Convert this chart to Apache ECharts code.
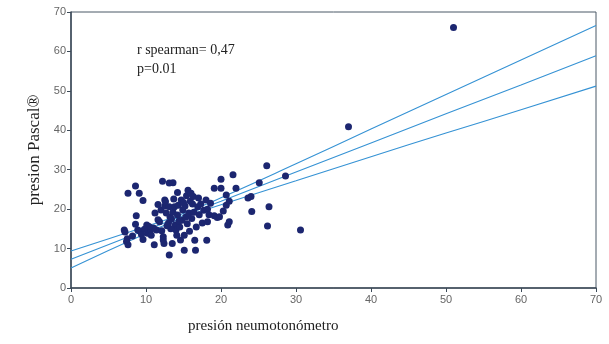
<!DOCTYPE html>
<html><head><meta charset="utf-8">
<script src="https://cdn.jsdelivr.net/npm/echarts@6/dist/echarts.min.js"></script>
<style>html,body{margin:0;padding:0;background:#fff}#c{width:609px;height:344px}</style>
</head><body><div id="c"></div>
<script>
// Scatter data: presión neumotonómetro (x) vs presion Pascal (y)
const pointsX = [7.1,7.2,7.4,7.6,7.6,8.6,9.1,9.6,8.7,8.6,8.9,9.2,9.6,10.1,10.2,10.6,10.7,11.1,11.2,11.4,11.6,11.6,11.8,12.2,12.0,12.3,12.3,12.4,12.5,12.5,12.6,12.7,13.1,13.6,13.1,13.1,13.5,13.2,13.4,13.6,13.8,13.9,14.0,14.2,14.3,14.5,14.6,14.7,14.8,14.9,15.1,15.1,15.2,15.3,15.4,15.6,15.5,15.7,15.8,15.9,16.0,16.1,16.2,16.4,16.5,16.6,16.7,16.9,17.1,17.3,17.5,17.7,18.0,18.2,18.4,18.1,18.2,18.6,19.1,19.1,19.5,19.8,20.0,20.0,20.3,20.7,20.7,21.1,20.9,21.1,21.6,22.0,23.6,24.0,24.1,25.1,26.1,26.2,26.4,28.6,30.6,37.0,51.0,13.0,13.3,14.1,14.4,15.0,12.8,12.1,11.0,13.7,16.3,17.0,14.2,10.4,9.8,9.4,8.2,7.5];
const pointsY = [14.7,14.2,11.8,11.0,24.0,25.9,24.0,22.2,18.3,16.2,14.7,14.4,12.3,16.0,13.9,14.7,13.4,11.0,19.0,14.7,21.2,17.3,16.8,27.1,19.8,13.0,12.2,11.3,22.3,20.8,21.9,19.0,26.6,26.7,20.6,8.4,11.3,18.0,17.5,19.2,20.6,16.0,14.7,18.5,21.0,15.5,12.2,22.3,17.2,19.8,9.6,13.4,20.8,18.0,23.4,24.8,16.3,19.0,14.4,22.0,24.0,17.6,21.3,19.2,12.1,9.6,15.5,20.6,18.6,21.3,16.5,19.7,22.3,20.0,18.6,12.1,16.8,21.5,25.3,18.3,17.9,18.1,27.6,25.3,19.5,23.6,21.0,22.0,16.0,16.8,28.7,25.3,22.8,23.2,19.4,26.7,31.0,15.7,20.6,28.4,14.7,40.9,66.1,16.5,15.0,13.4,17.0,21.7,15.8,14.5,15.2,22.6,23.2,22.8,24.2,15.6,14.9,13.6,13.2,12.5];
// Regression line and confidence band
const lineX  = [0, 10, 15, 20, 30, 40, 50, 60, 70];
const fitY   = [7.3, 14.7, 18.4, 22.0, 29.4, 36.8, 44.2, 51.5, 58.9];
const upperY = [9.4, 15.6, 18.9, 22.9, 31.5, 40.3, 49.1, 57.8, 66.6];
const lowerY = [5.1, 13.8, 17.9, 21.1, 27.2, 33.3, 39.3, 45.2, 51.2];
const xTicks = [0,10,20,30,40,50,60,70];
const yTicks = [0,10,20,30,40,50,60,70];
const xTitle = 'presión neumotonómetro';
const yTitle = 'presion Pascal®';
const noteLines = ['r spearman= 0,47', 'p=0.01'];

const pts = pointsX.map((x,i)=>[x,pointsY[i]]);
const ln = arr => lineX.map((x,i)=>[x,arr[i]]);
const lineStyle = {color:'#3592d4', width:1.1};
const axisLine = {show:true, onZero:false, lineStyle:{color:'#3c4a58', width:1.5}};
const axisTick = {show:true, inside:false, length:4, lineStyle:{color:'#3c4a58'}};
const labelStyle = {color:'#666', fontFamily:'Liberation Sans', fontSize:11};
const chart = echarts.init(document.getElementById('c'), null, {renderer:'canvas'});
chart.setOption({
  animation:false,
  backgroundColor:'#fff',
  grid:{left:71, right:13, top:12, bottom:56, show:true, borderColor:'#4a5866', borderWidth:1, backgroundColor:'transparent'},
  xAxis:{type:'value', min:xTicks[0], max:xTicks[xTicks.length-1], interval:xTicks[1]-xTicks[0],
    axisLine:axisLine, axisTick:axisTick, splitLine:{show:false},
    axisLabel:Object.assign({}, labelStyle, {margin:6})},
  yAxis:{type:'value', min:yTicks[0], max:yTicks[yTicks.length-1], interval:yTicks[1]-yTicks[0],
    name:yTitle, nameLocation:'middle', nameGap:25,
    nameTextStyle:{fontFamily:'Liberation Serif', fontSize:17, color:'#222'},
    axisLine:axisLine, axisTick:axisTick, splitLine:{show:false},
    axisLabel:Object.assign({}, labelStyle, {margin:5})},
  graphic:[
    {type:'text', left:188, top:319, style:{text:xTitle, font:'15px "Liberation Serif"', fill:'#222'}},
    {type:'text', left:137, top:41, style:{text:noteLines.join('\n'), font:'14px "Liberation Serif"', fill:'#222', lineHeight:19}}
  ],
  series:[
    {type:'line', data:ln(upperY), showSymbol:false, smooth:true, lineStyle:lineStyle, z:2},
    {type:'line', data:ln(fitY), showSymbol:false, lineStyle:lineStyle, z:2},
    {type:'line', data:ln(lowerY), showSymbol:false, smooth:true, lineStyle:lineStyle, z:2},
    {type:'scatter', data:pts, symbolSize:7, itemStyle:{color:'#1c2670', opacity:1}, z:3}
  ]
});
</script></body></html>
